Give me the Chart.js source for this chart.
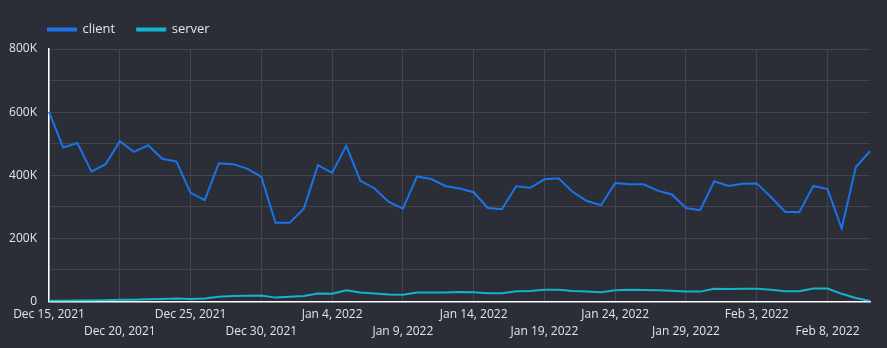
<!DOCTYPE html>
<html>
<head>
<meta charset="utf-8">
<script src="https://cdn.jsdelivr.net/npm/chart.js@4"></script>
<style>
  html, body { margin: 0; padding: 0; background: #2c2e37; }
  #wrap { width: 887px; height: 348px; }
</style>
</head>
<body>
<div id="wrap"><canvas id="trafficChart"></canvas></div>
<script>
const days = [
  'Dec 15, 2021', 'Dec 16, 2021', 'Dec 17, 2021', 'Dec 18, 2021', 'Dec 19, 2021',
  'Dec 20, 2021', 'Dec 21, 2021', 'Dec 22, 2021', 'Dec 23, 2021', 'Dec 24, 2021',
  'Dec 25, 2021', 'Dec 26, 2021', 'Dec 27, 2021', 'Dec 28, 2021', 'Dec 29, 2021',
  'Dec 30, 2021', 'Dec 31, 2021', 'Jan 1, 2022', 'Jan 2, 2022', 'Jan 3, 2022',
  'Jan 4, 2022', 'Jan 5, 2022', 'Jan 6, 2022', 'Jan 7, 2022', 'Jan 8, 2022',
  'Jan 9, 2022', 'Jan 10, 2022', 'Jan 11, 2022', 'Jan 12, 2022', 'Jan 13, 2022',
  'Jan 14, 2022', 'Jan 15, 2022', 'Jan 16, 2022', 'Jan 17, 2022', 'Jan 18, 2022',
  'Jan 19, 2022', 'Jan 20, 2022', 'Jan 21, 2022', 'Jan 22, 2022', 'Jan 23, 2022',
  'Jan 24, 2022', 'Jan 25, 2022', 'Jan 26, 2022', 'Jan 27, 2022', 'Jan 28, 2022',
  'Jan 29, 2022', 'Jan 30, 2022', 'Jan 31, 2022', 'Feb 1, 2022', 'Feb 2, 2022',
  'Feb 3, 2022', 'Feb 4, 2022', 'Feb 5, 2022', 'Feb 6, 2022', 'Feb 7, 2022',
  'Feb 8, 2022', 'Feb 9, 2022', 'Feb 10, 2022', 'Feb 11, 2022'
];

const client = [
  601000, 488000, 502000, 411000, 435000, 508000, 474000, 495000, 452000, 443000,
  344000, 321000, 438000, 435000, 421000, 395000, 249000, 249000, 294000, 432000,
  407000, 493000, 382000, 358000, 315000, 294000, 396000, 388000, 366000, 358000,
  346000, 296000, 292000, 365000, 360000, 387000, 390000, 347000, 318000, 305000,
  375000, 371000, 371000, 351000, 339000, 296000, 289000, 381000, 366000, 373000,
  374000, 331000, 284000, 283000, 366000, 356000, 231000, 426000, 476000
];

const server = [
  2000, 2000, 3000, 3000, 4000, 5000, 5000, 7000, 8000, 9000,
  8000, 9000, 15000, 17000, 18000, 19000, 12000, 15000, 17000, 25000,
  24000, 35000, 28000, 25000, 22000, 21000, 28000, 28000, 28000, 30000,
  29000, 26000, 26000, 32000, 33000, 37000, 37000, 33000, 31000, 29000,
  35000, 37000, 36000, 35000, 34000, 31000, 31000, 40000, 39000, 40000,
  40000, 37000, 32000, 32000, 41000, 41000, 24000, 11000, 1000
];

const yTicks = [0, 200000, 400000, 600000, 800000];
const yTickLabels = ['0', '200K', '400K', '600K', '800K'];

const textColor = '#e3e4e8';
const gridColor = '#43454e';
const fontFamily = '"Open Sans", "Noto Sans", sans-serif';

// legend sits over the plot's left edge and leaves a fixed gap above the plot
const legendPlacement = {
    id: 'legendPlacement',
    afterInit(chart) {
        const legend = chart.legend;
        const fit = legend.fit;
        legend.fit = function() {
            fit.call(this);
            this.height = 48;
        };
    },
    afterLayout(chart) {
        const legend = chart.legend;
        const pad = legend.options.labels.padding;
        const w = legend.width;
        legend.left = chart.chartArea.left - 1 - pad;
        legend.right = legend.left + w;
    }
};

const ctx = document.getElementById('trafficChart').getContext('2d');
new Chart(ctx, {
    type: 'line',
    data: {
        labels: days,
        datasets: [{
            label: 'client',
            data: client,
            borderColor: '#1a73e8',
            backgroundColor: '#1a73e8',
            borderWidth: 2,
            pointRadius: 0,
            tension: 0
        }, {
            label: 'server',
            data: server,
            borderColor: '#12b5cb',
            backgroundColor: '#12b5cb',
            borderWidth: 2,
            pointRadius: 0,
            tension: 0
        }]
    },
    plugins: [legendPlacement],
    options: {
        responsive: true,
        maintainAspectRatio: false,
        animation: false,
        layout: { padding: { left: 0, right: 0, top: 1, bottom: 3 } },
        scales: {
            x: {
                grid: { color: gridColor, drawTicks: false },
                border: { color: '#ffffff', width: 1.5 },
                ticks: {
                    autoSkip: false,
                    maxRotation: 0,
                    padding: 5,
                    color: textColor,
                    font: { family: fontFamily, size: 12, lineHeight: 1.4 },
                    callback: function(value, index) {
                        if (index % 5 !== 0) return null;
                        // alternate rows so the long date labels don't overlap
                        return (index / 5) % 2 === 0 ? [days[index]] : ['', days[index]];
                    }
                },
                afterFit: function(scale) {
                    scale.paddingLeft = 49;
                    scale.paddingRight = 17;
                }
            },
            y: {
                min: 0,
                max: 800000,
                grid: { color: gridColor, drawTicks: false },
                border: { color: '#ffffff', width: 1.5 },
                ticks: {
                    stepSize: 100000,
                    padding: 12,
                    color: textColor,
                    font: { family: fontFamily, size: 12 },
                    callback: function(value) {
                        const i = yTicks.indexOf(value);
                        return i >= 0 ? yTickLabels[i] : '';
                    }
                },
                afterFit: function(scale) {
                    scale.width = 49;
                }
            }
        },
        plugins: {
            legend: {
                position: 'top',
                align: 'start',
                labels: {
                    color: textColor,
                    font: { family: fontFamily, size: 13 },
                    boxWidth: 28,
                    boxHeight: 2,
                    padding: 22
                }
            },
            tooltip: { enabled: false }
        }
    }
});
</script>
</body>
</html>
